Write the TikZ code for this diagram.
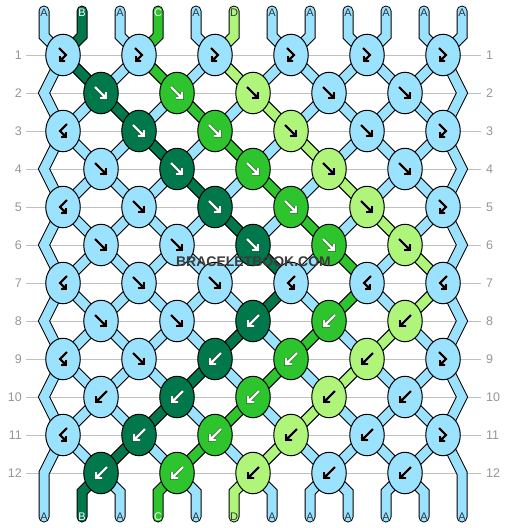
\documentclass[tikz,border=0pt]{standalone}
\usepackage{fontspec}
\setmainfont{Liberation Sans}
\usetikzlibrary{shapes.geometric}
\definecolor{cA}{RGB}{155,226,255}
\definecolor{cB}{RGB}{0,120,76}
\definecolor{cC}{RGB}{45,196,45}
\definecolor{cD}{RGB}{174,245,122}
\definecolor{gridgray}{RGB}{192,192,192}
\definecolor{numgray}{RGB}{150,150,150}
\definecolor{lettergray}{RGB}{45,55,65}
\definecolor{wmgray}{RGB}{60,60,60}
\pgfdeclarelayer{bg}
\pgfdeclarelayer{strings}
\pgfsetlayers{bg,strings,main}

\newcommand\knotarrow[3]{%
 \begin{scope}[shift={(#1.center)}]
 \ifcase#2\relax\or
  \draw[#3] (-6,-6) -- (5,5) (-1,5) -- (5,5) -- (5,-1);
 \or
  \draw[#3] (6,-6) -- (-5,5) (1,5) -- (-5,5) -- (-5,-1);
 \or
  \draw[#3] (-4,-7) -- (3,0) -- (-3,6) (-3,1) -- (-3,6) -- (2,6);
 \or
  \draw[#3] (4,-7) -- (-3,0) -- (3,6) (3,1) -- (3,6) -- (-2,6);
 \fi
 \end{scope}}

\newcommand\knotrow[2]{%
 \foreach \c/\col/\t/\ac in {#2}{%
  \node[knot=\col] (K-#1-\c) at ({25+38*\c},{17+38*#1}) {};
  \knotarrow{K-#1-\c}{\t}{\ac}%
 }}

\begin{document}
\begin{tikzpicture}[x=1pt,y=-1pt,
 strand/.style={draw=black,line width=1pt,double=#1,double distance=9pt,line join=miter},
 endstrand/.style={strand=#1,line cap=round},
 knot/.style={ellipse,draw=black,line width=1pt,fill=#1,minimum width=34.5pt,minimum height=41.5pt,inner sep=0pt},
 ak/.style={preaction={draw=white,line width=3.6pt,draw opacity=0.55},draw=black,line width=2.2pt},
 aw/.style={preaction={draw=black,line width=3.6pt,draw opacity=0.35},draw=white,line width=2.2pt},
 rownum/.style={font=\fontsize{12.5}{13}\selectfont,text=numgray,inner sep=0pt},
 strlab/.style={font=\fontsize{11}{11}\selectfont,inner sep=0pt,text=#1},
 gridline/.style={draw=gridgray,line width=1pt},
 wm/.style={font=\bfseries\fontsize{14}{14}\selectfont,inner sep=0pt,text=wmgray}
]
\useasboundingbox (0,0) rectangle (506,528);
\begin{pgfonlayer}{bg}
\fill[white] (0,0) rectangle (506,528);
\end{pgfonlayer}

% knots
\knotrow{1}{1/cA/3/ak,3/cA/3/ak,5/cA/3/ak,7/cA/3/ak,9/cA/3/ak,11/cA/3/ak}
\knotrow{2}{2/cB/1/aw,4/cC/1/aw,6/cD/1/ak,8/cA/1/ak,10/cA/1/ak}
\knotrow{3}{1/cA/4/ak,3/cB/1/aw,5/cC/1/aw,7/cD/1/ak,9/cA/1/ak,11/cA/3/ak}
\knotrow{4}{2/cA/1/ak,4/cB/1/aw,6/cC/1/aw,8/cD/1/ak,10/cA/1/ak}
\knotrow{5}{1/cA/4/ak,3/cA/1/ak,5/cB/1/aw,7/cC/1/aw,9/cD/1/ak,11/cA/3/ak}
\knotrow{6}{2/cA/1/ak,4/cA/1/ak,6/cB/1/aw,8/cC/1/aw,10/cD/1/ak}
\knotrow{7}{1/cA/4/ak,3/cA/1/ak,5/cA/1/ak,7/cA/4/ak,9/cA/4/ak,11/cA/4/ak}
\knotrow{8}{2/cA/1/ak,4/cA/1/ak,6/cB/2/aw,8/cC/2/aw,10/cD/2/ak}
\knotrow{9}{1/cA/4/ak,3/cA/1/ak,5/cB/2/aw,7/cC/2/aw,9/cD/2/ak,11/cA/3/ak}
\knotrow{10}{2/cA/2/ak,4/cB/2/aw,6/cC/2/aw,8/cD/2/ak,10/cA/2/ak}
\knotrow{11}{1/cA/4/ak,3/cB/2/aw,5/cC/2/aw,7/cD/2/ak,9/cA/2/ak,11/cA/3/ak}
\knotrow{12}{2/cB/2/aw,4/cC/2/aw,6/cD/2/ak,8/cA/2/ak,10/cA/2/ak}

% row numbers and grid lines
\foreach \r in {1,...,12}{
 \node[rownum,anchor=east] (L-\r) at (22,{17+38*\r}) {\r};
 \node[rownum,anchor=west] (R-\r) at (486,{17+38*\r}) {\r};
 \begin{pgfonlayer}{bg}
 \draw[gridline] ([xshift=4pt]L-\r.east) -- ([xshift=-5pt]R-\r.west);
 \end{pgfonlayer}
}

% edge turning points
\foreach \r in {2,4,...,12}{
 \coordinate (E-\r-1) at (44,{17+38*\r});
 \coordinate (E-\r-12) at (462,{17+38*\r});
}

\begin{pgfonlayer}{strings}
% inner segments (background colour A)
\foreach \r in {1,...,11}{
 \pgfmathtruncatemacro\rn{\r+1}
 \foreach \i in {2,...,11}{
  \pgfmathtruncatemacro\ca{ifthenelse(mod(\i+\r,2)==0,\i,\i-1)}
  \pgfmathtruncatemacro\cb{ifthenelse(mod(\i+\rn,2)==0,\i,\i-1)}
  \draw[strand=cA] (K-\r-\ca.center) -- (K-\rn-\cb.center);
 }
}
% coloured segments
\foreach \r/\i/\col in {1/2/cB,1/4/cC,1/6/cD,2/3/cB,2/5/cC,2/7/cD,3/4/cB,3/6/cC,3/8/cD,
 4/5/cB,4/7/cC,4/9/cD,5/6/cB,5/8/cC,5/10/cD,6/7/cB,6/9/cC,6/11/cD,7/7/cB,7/9/cC,7/11/cD,
 8/6/cB,8/8/cC,8/10/cD,9/5/cB,9/7/cC,9/9/cD,10/4/cB,10/6/cC,10/8/cD,11/3/cB,11/5/cC,11/7/cD}{
 \pgfmathtruncatemacro\rn{\r+1}
 \pgfmathtruncatemacro\ca{ifthenelse(mod(\i+\r,2)==0,\i,\i-1)}
 \pgfmathtruncatemacro\cb{ifthenelse(mod(\i+\rn,2)==0,\i,\i-1)}
 \draw[strand=\col] (K-\r-\ca.center) -- (K-\rn-\cb.center);
}
% edges
\foreach \r in {2,4,...,10}{
 \pgfmathtruncatemacro\rp{\r-1}
 \pgfmathtruncatemacro\rn{\r+1}
 \draw[strand=cA] (K-\rp-1.center) -- (E-\r-1) -- (K-\rn-1.center);
 \draw[strand=cA] (K-\rp-11.center) -- (E-\r-12) -- (K-\rn-11.center);
}
\end{pgfonlayer}

% top and bottom string ends with letters
\foreach \i/\col/\lc/\txt in {1/cA/lettergray/A,2/cB/white/B,3/cA/lettergray/A,4/cC/white/C,
 5/cA/lettergray/A,6/cD/lettergray/D,7/cA/lettergray/A,8/cA/lettergray/A,9/cA/lettergray/A,
 10/cA/lettergray/A,11/cA/lettergray/A,12/cA/lettergray/A}{
 \pgfmathtruncatemacro\ct{ifthenelse(mod(\i,2)==1,\i,\i-1)}
 \coordinate (TS-\i) at ({6+38*\i},11);
 \coordinate (TB-\i) at ({6+38*\i},36);
 \coordinate (BS-\i) at ({6+38*\i},517);
 \coordinate (BB-\i) at ({6+38*\i},492);
 \node[strlab=\lc] (TL-\i) at ({6+38*\i},13) {\txt};
 \node[strlab=\lc] (BL-\i) at ({6+38*\i},516.5) {\txt};
 \begin{pgfonlayer}{strings}
 \draw[endstrand=\col] (TS-\i) -- (TB-\i) -- (K-1-\ct.center);
 \end{pgfonlayer}
}
\begin{pgfonlayer}{strings}
\foreach \i/\col in {2/cB,3/cA,4/cC,5/cA,6/cD,7/cA,8/cA,9/cA,10/cA,11/cA}{
 \pgfmathtruncatemacro\cq{ifthenelse(mod(\i,2)==0,\i,\i-1)}
 \draw[endstrand=\col] (K-12-\cq.center) -- (BB-\i) -- (BS-\i);
}
\draw[endstrand=cA] (K-11-1.center) -- (E-12-1) -- (BS-1);
\draw[endstrand=cA] (K-11-11.center) -- (E-12-12) -- (BS-12);
\end{pgfonlayer}

% watermark
\node[wm] (WM) at (253.5,262) {BRACELETBOOK.COM};
\end{tikzpicture}
\end{document}
